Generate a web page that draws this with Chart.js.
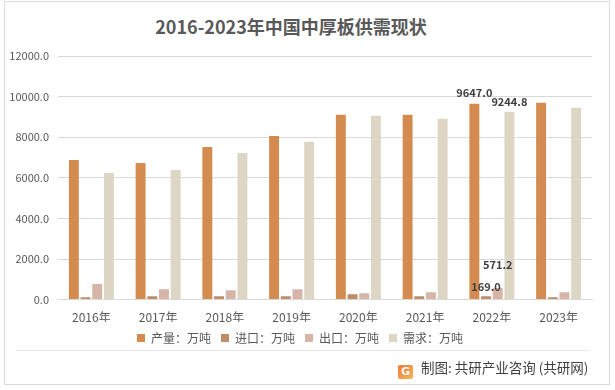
<!DOCTYPE html>
<html>
<head>
<meta charset="utf-8">
<script src="https://cdn.jsdelivr.net/npm/chart.js@4/dist/chart.umd.min.js"></script>
<style>
    body { margin: 0; background: #fff; font-family: "Noto Sans CJK SC", "Noto Sans", sans-serif; }
    #wrap { position: relative; width: 615px; height: 390px; overflow: hidden; }
    #frame { position: absolute; left: 4px; top: 1px; width: 604px; height: 382px; border: 1px solid #d9d9d9; }
    #title { position: absolute; left: 0; width: 582px; top: 13px; text-align: center; font-size: 18px; font-weight: bold; color: #595959; }
    #sep { position: absolute; left: 16px; top: 350px; width: 573px; height: 1px; background: #e8e8e8; }
    #source { position: absolute; left: 398px; top: 357px; font-size: 13.5px; color: #404040; white-space: nowrap; }
    #logo { display: inline-block; width: 15px; height: 14px; margin-right: 8px; vertical-align: -2px;
            background: linear-gradient(135deg, #f07b3a, #f6b55a); border-radius: 2px; color: #fff;
            font: bold 11px "DejaVu Sans", sans-serif; text-align: center; line-height: 14px; }
    canvas { position: absolute; left: 0; top: 0; }
</style>
</head>
<body>
<div id="wrap">
    <div id="frame"></div>
    <div id="title">2016-2023年中国中厚板供需现状</div>
    <canvas id="chart" width="615" height="390"></canvas>
    <div id="sep"></div>
    <div id="source"><span id="logo">G</span>制图: 共研产业咨询 (共研网)</div>
</div>
<script>
const years = ['2016年', '2017年', '2018年', '2019年', '2020年', '2021年', '2022年', '2023年'];
const seriesNames = ['产量：万吨', '进口：万吨', '出口：万吨', '需求：万吨'];
const production = [6880, 6730, 7520, 8065, 9100, 9100, 9647.0, 9695];
const imports = [120, 165, 165, 165, 263, 165, 169.0, 115];
const exportsT = [774, 510, 461, 510, 313, 362, 571.2, 362];
const demand = [6240, 6386, 7226, 7770, 9053, 8905, 9244.8, 9448];
const yTicks = [0, 2000, 4000, 6000, 8000, 10000, 12000];
const labelledYear = '2022年';

const colors = ['#d48b50', '#bf8c68', '#d6b4a7', '#ddd6c4'];
const labelLift = [5, 4, 18, 5];

const FONT = '"Noto Sans CJK SC", "Noto Sans", sans-serif';

const valueLabels = {
    id: 'valueLabels',
    afterDatasetsDraw(chart) {
        const ctx = chart.ctx;
        const idx = years.indexOf(labelledYear);
        ctx.save();
        ctx.font = 'bold 11px ' + FONT;
        ctx.fillStyle = '#404040';
        ctx.textAlign = 'center';
        ctx.textBaseline = 'bottom';
        chart.data.datasets.forEach((ds, i) => {
            const bar = chart.getDatasetMeta(i).data[idx];
            ctx.fillText(ds.data[idx].toFixed(1), bar.x, bar.y - labelLift[i]);
        });
        ctx.restore();
    }
};

const allSeries = [production, imports, exportsT, demand];

new Chart(document.getElementById('chart'), {
    type: 'bar',
    data: {
        labels: years,
        datasets: allSeries.map((d, i) => ({
            label: seriesNames[i],
            data: d,
            backgroundColor: colors[i],
            categoryPercentage: 0.7,
            barPercentage: 0.85
        }))
    },
    options: {
        responsive: false,
        animation: false,
        layout: { padding: { top: 56, left: 8, right: 23, bottom: 36 } },
        plugins: {
            legend: {
                position: 'bottom',
                labels: {
                    boxWidth: 8, boxHeight: 8, padding: 10,
                    color: '#595959',
                    font: { size: 12, family: FONT }
                }
            },
            tooltip: { enabled: false }
        },
        scales: {
            x: {
                grid: { display: false, drawTicks: false },
                border: { color: '#d9d9d9' },
                ticks: { color: '#595959', padding: 11, font: { size: 12, family: FONT } },
                afterFit: s => { s.height -= 14; }
            },
            y: {
                min: 0, max: 12000,
                afterBuildTicks: s => { s.ticks = yTicks.map(v => ({ value: v })); },
                afterFit: s => { s.width = 50; },
                grid: { color: '#d9d9d9', drawTicks: false },
                border: { display: false },
                ticks: {
                    color: '#595959', padding: 9,
                    font: { size: 11, family: FONT },
                    callback: v => v.toFixed(1)
                }
            }
        }
    },
    plugins: [valueLabels]
});
</script>
</body>
</html>
